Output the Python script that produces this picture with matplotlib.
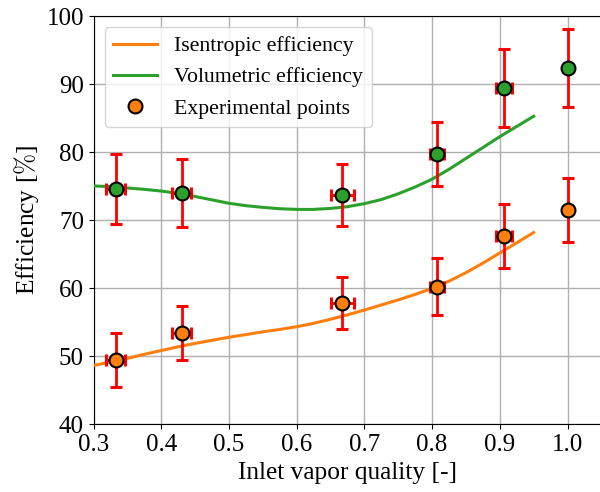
import numpy as np
import matplotlib
matplotlib.use('Agg')
import matplotlib.pyplot as plt

plt.rcParams['font.family'] = ['Liberation Serif', 'DejaVu Serif']
plt.rcParams['mathtext.fontset'] = 'cm'

# Measured points: inlet vapor quality and efficiencies with uncertainties
quality = [0.333, 0.430, 0.667, 0.807, 0.906, 1.000]
quality_err = [0.014, 0.014, 0.017, 0.010, 0.012, 0.0]
eta_vol = [74.6, 74.0, 73.7, 79.75, 89.5, 92.4]
eta_vol_err = [5.2, 5.0, 4.6, 4.75, 5.75, 5.7]
eta_is = [49.45, 53.4, 57.8, 60.2, 67.7, 71.5]
eta_is_err = [3.95, 4.0, 3.85, 4.2, 4.65, 4.7]

# Fitted correlations
fit_q = [0.300, 0.325, 0.350, 0.375, 0.400, 0.425, 0.450, 0.475, 0.500,
         0.525, 0.550, 0.575, 0.600, 0.625, 0.650, 0.675, 0.700, 0.725,
         0.750, 0.775, 0.800, 0.825, 0.850, 0.875, 0.900, 0.925, 0.950]
fit_is = [48.65, 49.15, 49.7, 50.3, 50.85, 51.4, 51.9, 52.35, 52.8,
          53.2, 53.6, 53.95, 54.35, 54.85, 55.45, 56.1, 56.8, 57.55,
          58.3, 59.1, 60.0, 61.05, 62.3, 63.7, 65.2, 66.7, 68.2]
fit_vol = [75.05, 74.95, 74.75, 74.55, 74.3, 73.95, 73.5, 73.0, 72.5,
           72.15, 71.9, 71.7, 71.6, 71.6, 71.75, 72.0, 72.45, 73.05,
           73.9, 74.9, 76.05, 77.5, 79.1, 80.7, 82.3, 83.8, 85.3]

fig = plt.figure(figsize=(6, 4.92), dpi=100)
ax = fig.add_axes([0.156, 0.1376, 0.8463, 0.8293])

ax.plot(fit_q, fit_is, c='tab:orange', lw=2.2, label='Isentropic efficiency', zorder=3)
ax.plot(fit_q, fit_vol, c='tab:green', lw=2.2, label='Volumetric efficiency', zorder=3)

err_style = dict(fmt='none', ecolor='red', elinewidth=2, capsize=4, capthick=2.2, zorder=4)
ax.errorbar(quality, eta_vol, yerr=eta_vol_err, xerr=quality_err, **err_style)
ax.errorbar(quality, eta_is, yerr=eta_is_err, xerr=quality_err, **err_style)

ax.plot(quality, eta_vol, 'o', ms=10, mfc='tab:green', mec='black', mew=1.5, zorder=5)
ax.plot(quality, eta_is, 'o', ms=10, mfc='tab:orange', mec='black', mew=1.5, zorder=5,
        label='Experimental points')

ax.set_xlim(0.3, 1.05)
ax.set_ylim(40, 100)
ax.set_xticks(np.arange(0.3, 1.01, 0.1))
ax.set_yticks(np.arange(40, 101, 10))
ax.tick_params(labelsize=18)
ax.grid(True, color='#b0b0b0', lw=1)
ax.set_axisbelow(True)

ax.set_xlabel('Inlet vapor quality [-]', fontsize=18.3)
ax.set_ylabel(r'Efficiency [$\%$]', fontsize=18.3)
ax.legend(loc='upper left', fontsize=15.7)

plt.savefig('out.png', dpi=100)
